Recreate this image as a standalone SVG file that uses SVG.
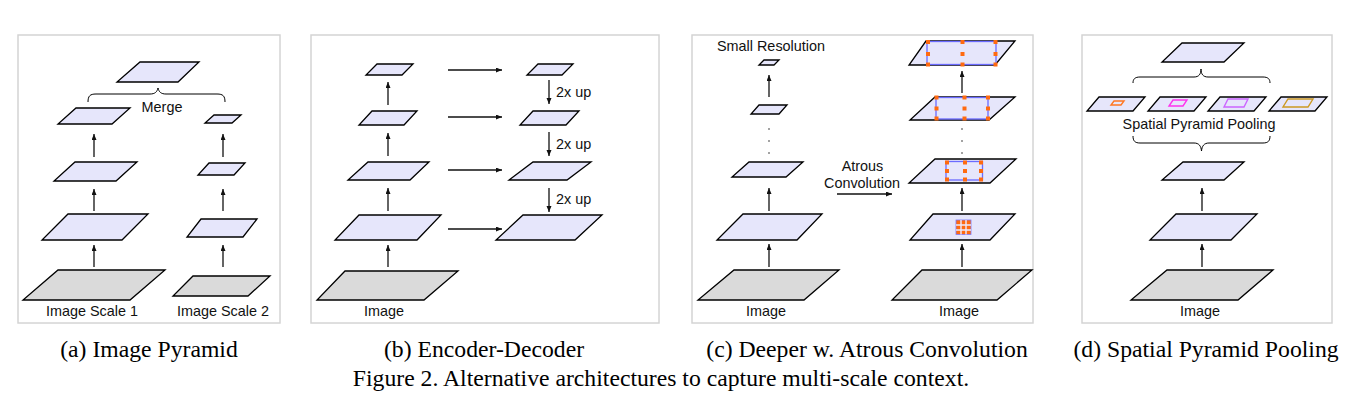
<svg xmlns="http://www.w3.org/2000/svg" width="1362" height="415" viewBox="0 0 1362 415">
<defs>
<marker id="ah" markerUnits="userSpaceOnUse" markerWidth="7" markerHeight="6" refX="6" refY="2.5" orient="auto">
<path d="M0,0 L6,2.5 L0,5 z" fill="#111"/>
</marker>
<style>
.frame{fill:#fff;stroke:#d4d4d4;stroke-width:1.5}
.fm{fill:#e6e6fb;stroke:#000;stroke-width:1.3;stroke-linejoin:miter}
.img{fill:#dadada;stroke:#000;stroke-width:1.3}
.arr{stroke:#111;stroke-width:1.3;fill:none;marker-end:url(#ah)}
.brace{fill:none;stroke:#000;stroke-width:1}
.lbl{font-family:"Liberation Sans",Arial,sans-serif;font-size:14.4px;fill:#111}
.cap{font-family:"Liberation Serif","Times New Roman",serif;font-size:23.7px;fill:#000}
.dot{fill:#000}
.br{fill:none;stroke:#6b6bff;stroke-width:1.3}
.od{fill:#ff6a10}
</style>
</defs>
<rect width="1362" height="415" fill="#fff"/>

<g id="frames">
<rect class="frame" x="18" y="35" width="262" height="288"/>
<rect class="frame" x="311" y="35" width="348" height="288"/>
<rect class="frame" x="692" y="35" width="341" height="288"/>
<rect class="frame" x="1082" y="35" width="250" height="288"/>
</g>

<!-- Panel a -->
<g id="a-merged"><polygon class="fm" points="140,62 199,62 178,82 117,82"/></g>
<g id="a-s1-img"><polygon class="img" points="58,270 165,270 130,300 23,300"/></g>
<g id="a-s1-l2"><polygon class="fm" points="68,214 148,214 122,240 42,240"/></g>
<g id="a-s1-l3"><polygon class="fm" points="75,162 137,162 116,181 54,181"/></g>
<g id="a-s1-l4"><polygon class="fm" points="76,108 130,108 112,124 58,124"/></g>
<g id="a-s2-img"><polygon class="img" points="193,276 270,276 248,296 173,296"/></g>
<g id="a-s2-l2"><polygon class="fm" points="201,219 257,219 243,237 187,237"/></g>
<g id="a-s2-l3"><polygon class="fm" points="209,163 245,163 234,175 198,175"/></g>
<g id="a-s2-l4"><polygon class="fm" points="214,115 241,115 232,123 205,123"/></g>
<g id="a-merge-label">
<path class="brace" d="M88,102 C88,96 90,94 96,94 L150,94 C155,94 157,92 158,88 C159,92 161,94 166,94 L217,94 C223,94 225,96 225,102"/>
<text class="lbl" x="162" y="112" text-anchor="middle">Merge</text>
</g>
<g id="a-labels">
<text class="lbl" x="92" y="316" text-anchor="middle">Image Scale 1</text>
<text class="lbl" x="223" y="316" text-anchor="middle">Image Scale 2</text>
</g>

<!-- Panel b -->
<g id="b-img"><polygon class="img" points="345,271 458,271 424,300 317,300"/></g>
<g id="b-e1"><polygon class="fm" points="359,215 441,215 417,240 335,240"/></g>
<g id="b-e2"><polygon class="fm" points="368,162 429,162 410,180 348,180"/></g>
<g id="b-e3"><polygon class="fm" points="372,111 417,111 404,125 359,125"/></g>
<g id="b-e4"><polygon class="fm" points="377,64 413,64 402,75 366,75"/></g>
<g id="b-d4"><polygon class="fm" points="538,64 573,64 562,75 527,75"/></g>
<g id="b-d3"><polygon class="fm" points="533,111 579,111 566,125 520,125"/></g>
<g id="b-d2"><polygon class="fm" points="533,162 591,162 567,180 509,180"/></g>
<g id="b-d1"><polygon class="fm" points="523,215 602,215 575,240 496,240"/></g>
<g id="b-labels">
<text class="lbl" x="384" y="316" text-anchor="middle">Image</text>
<text class="lbl" x="556" y="96.5">2x up</text>
<text class="lbl" x="556" y="148.5">2x up</text>
<text class="lbl" x="556" y="203.5">2x up</text>
</g>

<!-- Panel c -->
<g id="c-small"><polygon class="fm" points="764,60 779,60 774,65 759,65"/></g>
<g id="c-l2"><polygon class="fm" points="759,105 787,105 779,114 751,114"/></g>
<g id="c-l3"><polygon class="fm" points="749,162 803,162 786,177 732,177"/></g>
<g id="c-l4"><polygon class="fm" points="743,214 822,214 797,240 717,240"/></g>
<g id="c-img"><polygon class="img" points="734,270 839,270 804,300 698,300"/></g>
<g id="c-r1">
<polygon class="fm" points="926,41 1015,41 995,65 909,65"/>
<rect class="br" x="927" y="41.5" width="69" height="23"/>
<g class="od">
<rect x="926" y="40" width="4" height="4"/><rect x="960.5" y="40" width="4" height="4"/><rect x="993.5" y="40" width="4" height="4"/>
<rect x="926" y="52" width="4" height="4"/><rect x="960.5" y="52" width="4" height="4"/><rect x="993.5" y="52" width="4" height="4"/>
<rect x="926" y="62.5" width="4" height="4"/><rect x="960.5" y="62.5" width="4" height="4"/><rect x="993.5" y="62.5" width="4" height="4"/>
</g>
</g>
<g id="c-r2">
<polygon class="fm" points="935,97 1015,97 989,120 910,120"/>
<rect class="br" x="936" y="97.5" width="52" height="21.5"/>
<g class="od">
<rect x="934.5" y="95.5" width="4" height="4"/><rect x="962.5" y="95.5" width="4" height="4"/><rect x="986" y="95.5" width="4" height="4"/>
<rect x="934.5" y="106.5" width="4" height="4"/><rect x="962.5" y="106.5" width="4" height="4"/><rect x="986" y="106.5" width="4" height="4"/>
<rect x="934.5" y="116.5" width="4" height="4"/><rect x="962.5" y="116.5" width="4" height="4"/><rect x="986" y="116.5" width="4" height="4"/>
</g>
</g>
<g id="c-r3">
<polygon class="fm" points="935,159 1016,159 990,183 909,183"/>
<rect class="br" x="946" y="161.5" width="36.5" height="18.5"/>
<g class="od">
<rect x="945" y="160.5" width="4" height="4"/><rect x="963" y="160.5" width="4" height="4"/><rect x="979" y="160.5" width="4" height="4"/>
<rect x="945" y="169" width="4" height="4"/><rect x="963" y="169" width="4" height="4"/><rect x="979" y="169" width="4" height="4"/>
<rect x="945" y="177.5" width="4" height="4"/><rect x="963" y="177.5" width="4" height="4"/><rect x="979" y="177.5" width="4" height="4"/>
</g>
</g>
<g id="c-r4">
<polygon class="fm" points="933,214 1015,214 990,240 910,240"/>
<rect x="956" y="220" width="15" height="14.5" fill="#ff6a10" stroke="#7a7aff" stroke-width="0.8"/>
<path d="M961,220 V234.5 M966,220 V234.5 M956,225 H971 M956,230 H971" stroke="#ececff" stroke-width="1.4"/>
</g>
<g id="c-img2"><polygon class="img" points="922,270 1032,270 997,300 892,300"/></g>
<g id="c-dots">
<circle class="dot" cx="769" cy="129" r="0.7"/><circle class="dot" cx="769" cy="141" r="0.7"/><circle class="dot" cx="769" cy="153" r="0.7"/>
<circle class="dot" cx="962" cy="129" r="0.7"/><circle class="dot" cx="962" cy="141" r="0.7"/><circle class="dot" cx="962" cy="153" r="0.7"/>
</g>
<g id="c-labels">
<text class="lbl" x="717" y="51">Small Resolution</text>
<text class="lbl" x="862.5" y="171" text-anchor="middle">Atrous</text>
<text class="lbl" x="862" y="187.5" text-anchor="middle">Convolution</text>
<text class="lbl" x="766" y="316" text-anchor="middle">Image</text>
<text class="lbl" x="959" y="316" text-anchor="middle">Image</text>
</g>

<!-- Panel d -->
<g id="d-top"><polygon class="fm" points="1182,43 1244,43 1224,62 1162,62"/></g>
<g id="d-p1">
<polygon class="fm" points="1099,97 1145,97 1133,111 1087,111"/>
<polygon points="1114,101 1124,101 1121,105 1111,105" fill="none" stroke="#ff7722" stroke-width="1.4"/>
</g>
<g id="d-p2">
<polygon class="fm" points="1160,97 1206,97 1194,111 1148,111"/>
<polygon points="1173,100 1187,100 1183,106 1169,106" fill="none" stroke="#ff33ee" stroke-width="1.4"/>
</g>
<g id="d-p3">
<polygon class="fm" points="1220,97 1266,97 1254,111 1208,111"/>
<polygon points="1228,99 1248,99 1244,107 1224,107" fill="none" stroke="#cc66ff" stroke-width="1.4"/>
</g>
<g id="d-p4">
<polygon class="fm" points="1281,97 1327,97 1315,111 1269,111"/>
<polygon points="1288,99 1313,99 1308,107 1283,107" fill="none" stroke="#cc9922" stroke-width="1.4"/>
</g>
<g id="d-braces">
<path class="brace" d="M1133,83 C1133,79 1135,77 1140,77 L1194,77 C1199,77 1201,74 1201,69 C1201,74 1203,77 1208,77 L1263,77 C1268,77 1270,79 1270,83"/>
<path class="brace" d="M1133,136 C1133,141 1135,143 1140,143 L1194,143 C1199,143 1201,146 1201.5,151 C1202,146 1204,143 1209,143 L1263,143 C1268,143 1270,141 1270,136"/>
<text class="lbl" x="1199" y="128.5" text-anchor="middle">Spatial Pyramid Pooling</text>
</g>
<g id="d-l2"><polygon class="fm" points="1183,162 1244,162 1224,180 1162,180"/></g>
<g id="d-l1"><polygon class="fm" points="1176,214 1257,214 1231,240 1150,240"/></g>
<g id="d-img"><polygon class="img" points="1167,270 1273,270 1238,300 1131,300"/></g>
<text class="lbl" x="1200" y="316" text-anchor="middle">Image</text>

<g id="connectors">
<line class="arr" x1="94" y1="267" x2="94" y2="245"/>
<line class="arr" x1="94" y1="211" x2="94" y2="189"/>
<line class="arr" x1="94" y1="157" x2="94" y2="134"/>
<line class="arr" x1="223" y1="267" x2="223" y2="245"/>
<line class="arr" x1="223" y1="211" x2="223" y2="189"/>
<line class="arr" x1="223" y1="157" x2="223" y2="134"/>
<line class="arr" x1="388" y1="267" x2="388" y2="245"/>
<line class="arr" x1="388" y1="211" x2="388" y2="188"/>
<line class="arr" x1="388" y1="156" x2="388" y2="133"/>
<line class="arr" x1="388" y1="105" x2="388" y2="82"/>
<line class="arr" x1="448" y1="70" x2="502" y2="70"/>
<line class="arr" x1="448" y1="117" x2="502" y2="117"/>
<line class="arr" x1="448" y1="170" x2="502" y2="170"/>
<line class="arr" x1="448" y1="229" x2="502" y2="229"/>
<line class="arr" x1="549" y1="80" x2="549" y2="104"/>
<line class="arr" x1="549" y1="132" x2="549" y2="156"/>
<line class="arr" x1="549" y1="188" x2="549" y2="212"/>
<line class="arr" x1="769" y1="97" x2="769" y2="75"/>
<line class="arr" x1="769" y1="267" x2="769" y2="244"/>
<line class="arr" x1="769" y1="211" x2="769" y2="188"/>
<line class="arr" x1="837" y1="194" x2="892" y2="194"/>
<line class="arr" x1="962" y1="93" x2="962" y2="71"/>
<line class="arr" x1="962" y1="211" x2="962" y2="188"/>
<line class="arr" x1="962" y1="267" x2="962" y2="244"/>
<line class="arr" x1="1202" y1="267" x2="1202" y2="244"/>
<line class="arr" x1="1202" y1="211" x2="1202" y2="188"/>
</g>

<g id="captions">
<text class="cap" x="149" y="357" text-anchor="middle">(a) Image Pyramid</text>
<text class="cap" x="484" y="357" text-anchor="middle">(b) Encoder-Decoder</text>
<text class="cap" x="867" y="357" text-anchor="middle">(c) Deeper w. Atrous Convolution</text>
<text class="cap" x="1206" y="357" text-anchor="middle">(d) Spatial Pyramid Pooling</text>
<text class="cap" x="661" y="386" text-anchor="middle">Figure 2. Alternative architectures to capture multi-scale context.</text>
</g>
</svg>
